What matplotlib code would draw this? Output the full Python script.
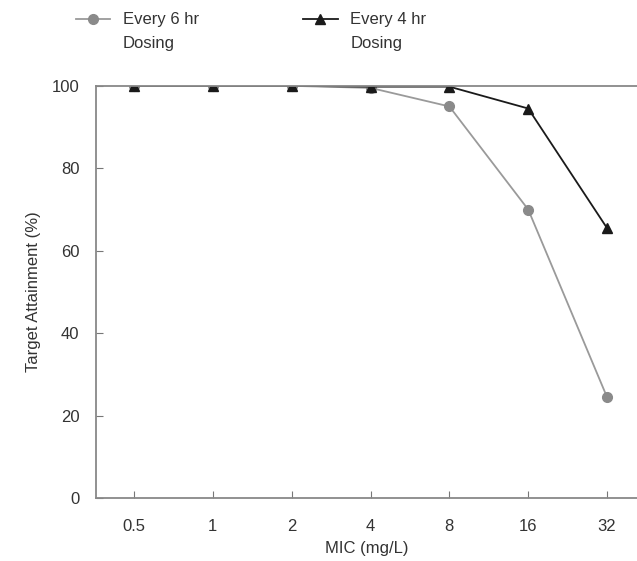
import numpy as np
import matplotlib.pyplot as plt
from matplotlib.lines import Line2D

plt.rcParams['font.family'] = ['Liberation Sans Narrow', 'Liberation Sans', 'DejaVu Sans']

# Datos
mic_labels = ['0.5', '1', '2', '4', '8', '16', '32']
cada6h = [100, 100, 100, 99.5, 95, 70, 24.5]
cada4h = [100, 100, 100, 99.8, 99.8, 94.5, 65.5]

txt = '#333333'
gris = '#9a9a9a'
negro = '#1a1a1a'

fig = plt.figure(figsize=(6.37, 5.61), dpi=100)
ax = fig.add_axes([0.151, 0.112, 0.849, 0.735])

x = np.arange(len(mic_labels))
ax.plot(x, cada6h, color=gris, lw=1.3, marker='o', ms=7, mfc='#8a8a8a', mec='#8a8a8a')
ax.plot(x, cada4h, color=negro, lw=1.3, marker='^', ms=7, mfc=negro, mec=negro)

ax.set_xlim(-0.48, 6.38)
ax.set_ylim(0, 100)
ax.set_xticks(x)
ax.set_xticklabels(mic_labels)
ax.set_yticks([0, 20, 40, 60, 80, 100])
ax.tick_params(direction='in', length=5, color='#777777', labelcolor=txt, labelsize=12, pad=15)
ax.tick_params(axis='y', pad=12)

for s in ['left', 'bottom', 'top']:
    ax.spines[s].set_color('#888888')
    ax.spines[s].set_linewidth(1.3)
ax.spines['right'].set_visible(False)

ax.set_xlabel('MIC (mg/L)', fontsize=12, color=txt, labelpad=5)
ax.set_ylabel('Target Attainment (%)', fontsize=12, color=txt, labelpad=8)

# Leyenda manual arriba
for x0, color, mk, mc, label in [(0.119, gris, 'o', '#8a8a8a', 'Every 6 hr\nDosing'),
                                  (0.476, negro, '^', negro, 'Every 4 hr\nDosing')]:
    y0 = 1 - 19 / 561
    fig.add_artist(Line2D([x0, x0 + 0.054], [y0, y0], color=color, lw=1.3))
    fig.add_artist(Line2D([x0 + 0.027], [y0], color=color, marker=mk, ms=7, mfc=mc, mec=mc))
    fig.text(x0 + 0.074, y0 + 0.012, label, fontsize=12, color=txt, va='top', ha='left',
             linespacing=1.75)

fig.savefig('out.png', dpi=100)
